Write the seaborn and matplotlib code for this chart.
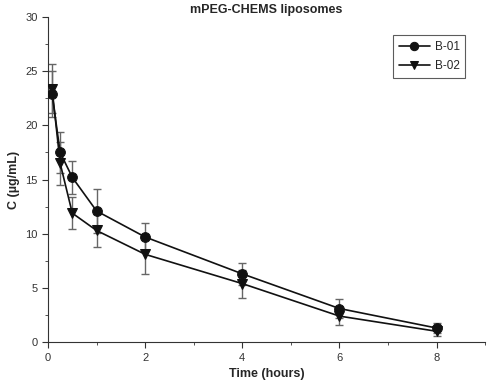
import numpy as np
import pandas as pd
import matplotlib
matplotlib.use('Agg')
import matplotlib.pyplot as plt
import seaborn as sns

sns.set_style('ticks')
plt.rcParams['font.family'] = ['Liberation Sans', 'DejaVu Sans']

# Data
time_h = [0.083, 0.25, 0.5, 1, 2, 4, 6, 8]
b01_mean = [22.9, 17.5, 15.2, 12.1, 9.7, 6.3, 3.1, 1.3]
b01_err = [2.1, 1.9, 1.5, 2.0, 1.3, 1.0, 0.85, 0.5]
b02_mean = [23.4, 16.5, 11.9, 10.3, 8.1, 5.4, 2.4, 1.0]
b02_err = [2.3, 2.0, 1.5, 1.5, 1.8, 1.3, 0.8, 0.4]
groups = ['B-01', 'B-02']

df = pd.concat([
    pd.DataFrame({'Time': time_h, 'C': b01_mean, 'err': b01_err, 'group': groups[0]}),
    pd.DataFrame({'Time': time_h, 'C': b02_mean, 'err': b02_err, 'group': groups[1]}),
])

fig = plt.figure(figsize=(4.9, 3.87), dpi=100)
ax = fig.add_axes([0.098, 0.116, 0.892, 0.84])

# error bars first, grey
for g in groups:
    d = df[df['group'] == g]
    ax.errorbar(d['Time'], d['C'], yerr=d['err'], fmt='none', ecolor='#666666',
                elinewidth=1.0, capsize=3, capthick=1.0, zorder=1)

sns.lineplot(data=df, x='Time', y='C', hue='group', style='group',
             markers={'B-01': 'o', 'B-02': 'v'}, dashes=False,
             palette={'B-01': '#111111', 'B-02': '#111111'},
             markersize=7, linewidth=1.2, markeredgecolor='#111111', ax=ax, zorder=3)

ax.set_xlim(0, 9)
ax.set_ylim(0, 30)
ax.set_xticks([0, 2, 4, 6, 8])
ax.set_xticks([1, 3, 5, 7, 9], minor=True)
ax.set_yticks([0, 5, 10, 15, 20, 25, 30])
ax.set_yticks(np.arange(2.5, 30, 5), minor=True)
ax.tick_params(which='major', direction='out', length=4, labelsize=8, colors='#333333')
ax.tick_params(which='minor', direction='out', length=2.5, colors='#333333')
for s in ['left', 'bottom']:
    ax.spines[s].set_color('#333333')
sns.despine(ax=ax)

ax.set_title('mPEG-CHEMS liposomes', fontsize=9, fontweight='bold', pad=3)
ax.set_xlabel('Time (hours)', fontsize=9, fontweight='bold')
ax.set_ylabel('C (µg/mL)', fontsize=9, fontweight='bold')

leg = ax.legend(loc='upper right', bbox_to_anchor=(0.955, 0.945), fontsize=8.5,
                frameon=True, fancybox=False, edgecolor='#333333', handlelength=2.6,
                handletextpad=0.4, borderpad=0.5, labelspacing=0.6, borderaxespad=0)
leg.get_frame().set_linewidth(0.8)
for h in leg.legend_handles:
    h.set_markersize(6)

fig.savefig('out.png', dpi=100)
